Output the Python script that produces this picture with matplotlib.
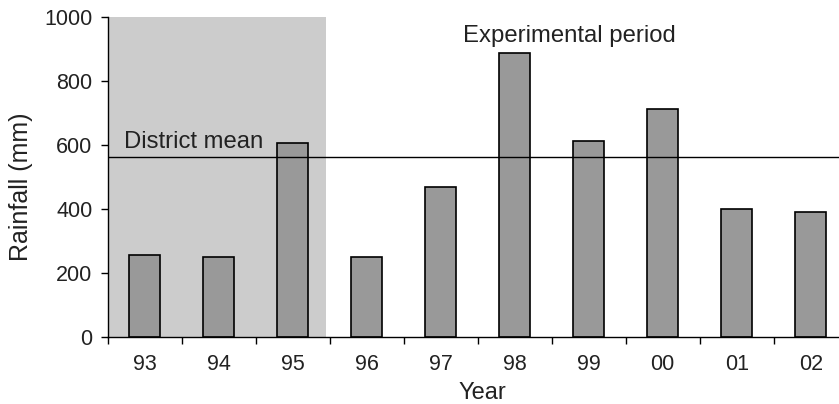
import matplotlib
matplotlib.use("Agg")
import matplotlib.pyplot as plt

# rainfall per year (mm)
years = ["93", "94", "95", "96", "97", "98", "99", "00", "01", "02"]
rainfall = [256, 250, 605, 250, 470, 888, 611, 711, 400, 390]
district_mean = 561

plt.rcParams['font.family'] = ['Liberation Sans', 'DejaVu Sans']
txt = '#222222'

fig = plt.figure(figsize=(8.39, 4.04), dpi=100)
ax = fig.add_axes([107.7 / 839, 67 / 404, 740 / 839, 320 / 404])

x = list(range(len(years)))
# shaded pre-experimental years
ax.axvspan(-0.5, 2.45, color='#cccccc', lw=0, zorder=0)
ax.bar(x, rainfall, width=0.42, color='#999999', edgecolor='black', linewidth=1.2, zorder=2)
ax.axhline(district_mean, color='black', lw=1.0, zorder=3)

ax.text(-0.28, 590, 'District mean', fontsize=17.2, color=txt, va='baseline')
ax.text(4.305, 923, 'Experimental period', fontsize=17.2, color=txt, va='baseline')

ax.set_xlim(-0.5, 9.5)
ax.set_ylim(0, 1000)
ax.set_yticks([0, 200, 400, 600, 800, 1000])

# ticks between the years, labels under the bars
ax.set_xticks([i - 0.5 for i in x])
ax.set_xticklabels([])
ax.set_xticks(x, minor=True)
ax.set_xticklabels(years, minor=True)
ax.tick_params(axis='x', which='major', length=5, width=1, direction='out')
ax.tick_params(axis='x', which='minor', length=0, pad=12, labelsize=15.5, labelcolor=txt)
ax.tick_params(axis='y', length=5, width=1, pad=6, labelsize=15.5, labelcolor=txt)

for s in ['top', 'right']:
    ax.spines[s].set_visible(False)
for s in ['left', 'bottom']:
    ax.spines[s].set_linewidth(1.0)

ax.set_ylabel('Rainfall (mm)', fontsize=18, color=txt)
ax.yaxis.set_label_coords(-0.101, 0.47)
fig.text(482 / 839, 5 / 404, 'Year', fontsize=17, color=txt, ha='center', va='baseline')

fig.savefig('out.png', dpi=100)
